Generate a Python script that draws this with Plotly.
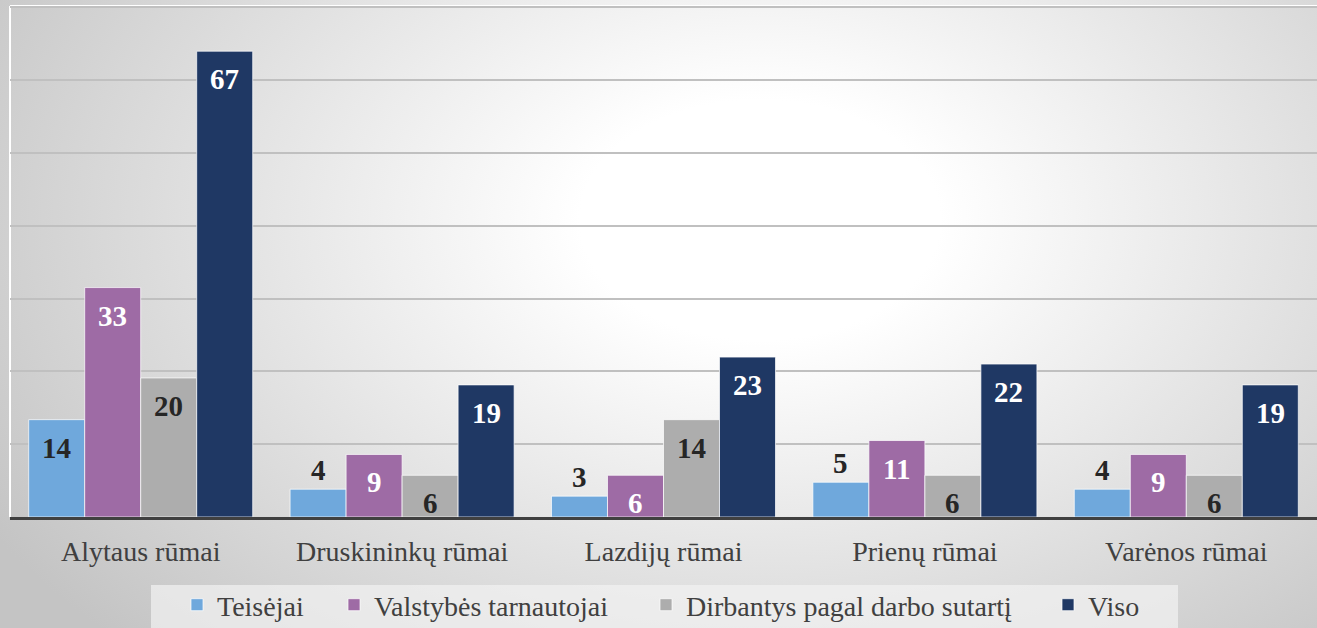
import base64
import plotly.graph_objects as go

categories = ["Alytaus rūmai", "Druskininkų rūmai", "Lazdijų rūmai", "Prienų rūmai", "Varėnos rūmai"]
series_names = ["Teisėjai", "Valstybės tarnautojai", "Dirbantys pagal darbo sutartį", "Viso"]
teisejai = [14, 4, 3, 5, 4]
valstybes = [33, 9, 6, 11, 9]
dirbantys = [20, 6, 14, 6, 6]
viso = [67, 19, 23, 22, 19]
series_values = [teisejai, valstybes, dirbantys, viso]

colors = ["#6fa8dc", "#9e6ba5", "#adadad", "#1f3864"]
label_colors = ["#262626", "#ffffff", "#262626", "#ffffff"]

W, H = 1317, 628
ML, MR, MT, MB = 10, 0, 6, 111
PW, PH = W - ML - MR, H - MT - MB
YMAX = 73.5
BARGAP = 0.143
FONT = "Liberation Serif"
# legend entry left edges (px) so each entry sits where the reference puts it
LEGEND_LEFT_PX = [177, 334, 646, 1048]
LEGEND_TOP_PX = 580
LEGEND_BOX_PX = (151, 1178, 585, 628)

fig = go.Figure()
for k, (name, vals, col) in enumerate(zip(series_names, series_values, colors)):
    fig.add_trace(go.Bar(
        name=name, x=categories, y=vals,
        marker=dict(color=col, line=dict(color="rgba(255,255,255,0.7)", width=1)),
        hoverinfo="x+y+name",
        legend="legend" if k == 0 else f"legend{k + 1}",
    ))

# value labels
cat_px = PW / len(categories)
bar_px = cat_px * (1 - BARGAP) / len(series_names)
px_per_unit = PH / YMAX
annotations = []
for i, (vals, lc) in enumerate(zip(series_values, label_colors)):
    for cat, v in zip(categories, vals):
        h = v * px_per_unit
        inside = h > 36
        annotations.append(dict(
            x=cat, y=v, xref="x", yref="y", text=str(v), showarrow=False,
            xshift=(i - (len(series_names) - 1) / 2) * bar_px,
            yshift=-28 if inside else 19,
            yanchor="middle", xanchor="center",
            font=dict(family=FONT, size=29, color=lc if inside else "#262626", weight="bold"),
        ))

svg = f'''<svg xmlns="http://www.w3.org/2000/svg" width="{W}" height="{H}" viewBox="0 0 {W} {H}" preserveAspectRatio="none">
<defs><radialGradient id="g" gradientUnits="userSpaceOnUse" cx="0" cy="0" r="1" gradientTransform="translate(760,220) scale(900,600)">
<stop offset="0.2" stop-color="#ffffff"/><stop offset="1" stop-color="#c4c4c4"/></radialGradient></defs>
<rect x="0" y="0" width="{W}" height="{H}" fill="url(#g)"/></svg>'''
src = "data:image/svg+xml;base64," + base64.b64encode(svg.encode()).decode()


def px_x(px):
    return (px - ML) / PW


def px_y(py):
    return (H - MB - py) / PH


legend_common = dict(orientation="h", xanchor="left", yanchor="top", y=px_y(LEGEND_TOP_PX),
                     bgcolor="rgba(0,0,0,0)",
                     font=dict(family=FONT, size=28, color="#404040"))
legends = {}
for k, lx in enumerate(LEGEND_LEFT_PX):
    key = "legend" if k == 0 else f"legend{k + 1}"
    legends[key] = dict(legend_common, x=px_x(lx))

bx0, bx1, by0, by1 = LEGEND_BOX_PX
fig.update_layout(
    width=W, height=H,
    margin=dict(l=ML, r=MR, t=MT, b=MB, autoexpand=False),
    paper_bgcolor="#d9d9d9",
    plot_bgcolor="rgba(0,0,0,0)",
    barmode="group", bargap=BARGAP, bargroupgap=0,
    font=dict(family=FONT, size=28, color="#404040"),
    images=[dict(source=src, xref="paper", yref="paper",
                 x=-ML / PW, y=1 + MT / PH, sizex=W / PW, sizey=H / PH,
                 xanchor="left", yanchor="top", sizing="stretch", layer="below")],
    shapes=[
        dict(type="line", xref="paper", yref="paper", x0=0, x1=1, y0=1, y1=1,
             line=dict(color="#ffffff", width=2), layer="below"),
        dict(type="line", xref="paper", yref="paper", x0=0, x1=0, y0=0, y1=1,
             line=dict(color="#ffffff", width=2), layer="below"),
        dict(type="rect", xref="paper", yref="paper",
             x0=px_x(bx0), x1=px_x(bx1), y0=px_y(by1), y1=px_y(by0),
             fillcolor="rgba(242,242,242,0.7)", line=dict(width=0), layer="below"),
    ],
    annotations=annotations,
    xaxis=dict(showline=True, linecolor="#404040", linewidth=3, ticks="outside",
               ticklen=7, tickcolor="rgba(0,0,0,0)",
               tickfont=dict(family=FONT, size=28, color="#404040"), showgrid=False),
    yaxis=dict(range=[0, YMAX], showgrid=True, gridcolor="#c0c0c0", gridwidth=1.5,
               tick0=0, dtick=YMAX * 72.8 / PH, showticklabels=False, zeroline=False,
               showline=False, fixedrange=True),
    showlegend=True,
    **legends,
)

fig.write_html("out.html", config={"displayModeBar": False},
               post_script="document.body.style.margin='0';document.body.style.padding='0';")
